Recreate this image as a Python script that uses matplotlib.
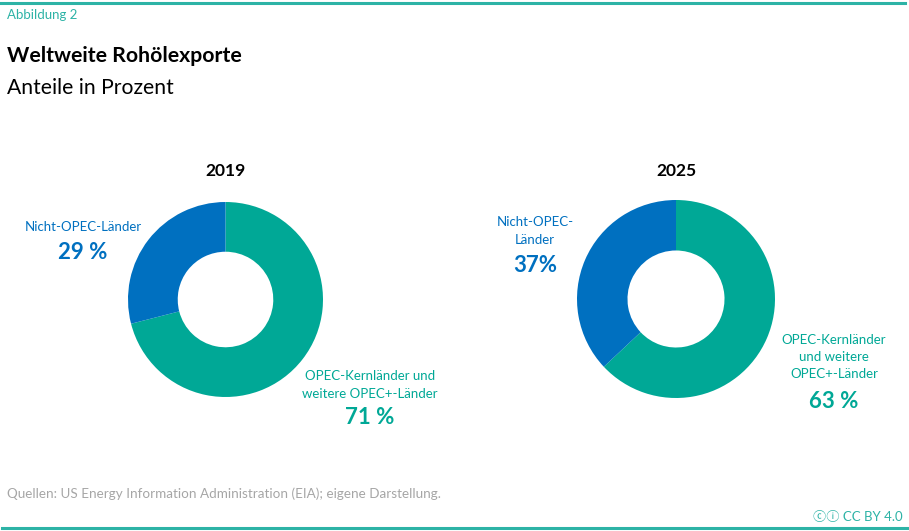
import matplotlib
matplotlib.use('Agg')
from matplotlib import pyplot as plt
from matplotlib.lines import Line2D

plt.rcParams['font.family'] = ['Lato', 'DejaVu Sans']

# data
years = ['2019', '2025']
opec_share = [71, 63]
non_opec_share = [29, 37]
opec_labels = ['OPEC-Kernländer und\nweitere OPEC+-Länder',
               'OPEC-Kernländer\nund weitere\nOPEC+-Länder']
non_opec_labels = ['Nicht-OPEC-Länder', 'Nicht-OPEC-\nLänder']
opec_pct = ['71 %', '63 %']
non_opec_pct = ['29 %', '37%']

TEAL = '#00A896'
BLUE = '#0070C0'
W, H = 909, 531

fig = plt.figure(figsize=(W / 100, H / 100), dpi=100)


def fx(x):
    return x / W


def fy(y):
    return 1 - y / H


# frame lines
fig.add_artist(Line2D([0, fx(905)], [fy(2.5), fy(2.5)], color='#2DB3A6', lw=2.2))
fig.add_artist(Line2D([fx(2), 1], [fy(528), fy(528)], color='#2DB3A6', lw=2.2))

fig.text(fx(7), fy(15), 'Abbildung 2', color='#2DB3A6', fontsize=9.5, va='center')
fig.text(fx(7), fy(56), 'Weltweite Rohölexporte', fontsize=15.3, fontweight='bold', va='center')
fig.text(fx(7), fy(88), 'Anteile in Prozent', fontsize=15.2, va='center')
fig.text(fx(7), fy(494), 'Quellen: US Energy Information Administration (EIA); eigene Darstellung.',
         color='#A6A6A6', fontsize=9.75, va='center')
fig.text(fx(903), fy(517), 'ⓒⓘ CC BY 4.0', color='#2DB3A6', fontsize=9.5, va='center', ha='right',
         family=['Lato', 'Noto Sans CJK SC', 'DejaVu Sans'])

centers = [(225.5, 299.5), (676, 299)]
radii = [97.5, 99]
year_pos = [(226, 171), (676, 171)]
non_opec_pos = [((83, 227), (83, 252)), ((535, 231), (535, 266))]
opec_pos = [((370, 385), (370, 418)), ((834, 357), (834, 402))]

for i in range(2):
    cx, cy = centers[i]
    r = radii[i]
    ax = fig.add_axes([fx(cx - r), fy(cy + r), 2 * r / W, 2 * r / H])
    ax.pie([opec_share[i], non_opec_share[i]], colors=[TEAL, BLUE], startangle=90,
           counterclock=False, radius=1, wedgeprops=dict(width=0.51, linewidth=0))
    ax.set_xlim(-1, 1)
    ax.set_ylim(-1, 1)
    ax.axis('off')

    fig.text(fx(year_pos[i][0]), fy(year_pos[i][1]), years[i], fontsize=12.5,
             fontweight='bold', ha='center', va='center')
    (lx, ly), (px, py) = non_opec_pos[i]
    fig.text(fx(lx), fy(ly), non_opec_labels[i], color=BLUE, fontsize=9.5,
             ha='center', va='center', linespacing=1.55)
    fig.text(fx(px), fy(py), non_opec_pct[i], color=BLUE, fontsize=16,
             fontweight='bold', ha='center', va='center')
    (lx, ly), (px, py) = opec_pos[i]
    fig.text(fx(lx), fy(ly), opec_labels[i], color=TEAL, fontsize=9.5,
             ha='center', va='center', linespacing=1.55)
    fig.text(fx(px), fy(py), opec_pct[i], color=TEAL, fontsize=16,
             fontweight='bold', ha='center', va='center')

fig.savefig('out.png', dpi=100)
